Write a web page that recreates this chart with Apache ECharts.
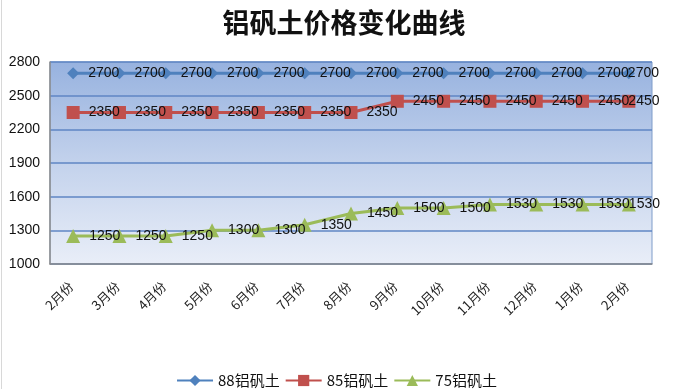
<!DOCTYPE html>
<html>
<head>
<meta charset="utf-8">
<script src="https://cdn.jsdelivr.net/npm/echarts@6/dist/echarts.min.js"></script>
<style>
html,body{margin:0;padding:0;background:#fff;}
#chart{width:673px;height:389px;}
</style>
</head>
<body>
<div id="chart"></div>
<script>
const titleText = '铝矾土价格变化曲线';
const categories = ['2月份','3月份','4月份','5月份','6月份','7月份','8月份','9月份','10月份','11月份','12月份','1月份','2月份'];
const seriesNames = ['88铝矾土','85铝矾土','75铝矾土'];
const s88 = [2700,2700,2700,2700,2700,2700,2700,2700,2700,2700,2700,2700,2700];
const s85 = [2350,2350,2350,2350,2350,2350,2350,2450,2450,2450,2450,2450,2450];
const s75 = [1250,1250,1250,1300,1300,1350,1450,1500,1500,1530,1530,1530,1530];
const yTicks = {min:1000, max:2800, interval:300};

const chart = echarts.init(document.getElementById('chart'));
const labelStyle = {show:true, position:'right', distance:9, color:'#111', fontSize:14, fontFamily:'Liberation Sans'};
function mk(name, data, color, symbol, size){
  return {
    name, type:'line', data, symbol, symbolSize:size,
    lineStyle:{color, width:3}, itemStyle:{color},
    label:labelStyle, z: 3,
    labelLayout: function(p){ return p.dataIndex === data.length - 1 ? {dx:-16} : {}; }
  };
}
chart.setOption({
  animation:false,
  backgroundColor:'#fff',
  title:{text:titleText, left:339, textAlign:'center', top:4,
    textStyle:{fontSize:27, fontWeight:'bold', color:'#111', fontFamily:'Noto Sans CJK SC'}},
  legend:{left:'center', top:368, itemWidth:36, itemHeight:14, itemGap:5,
    textStyle:{fontSize:15, color:'#111', fontFamily:'Noto Sans CJK SC'},
    data:seriesNames},
  grid:{left:50, right:21, top:62, bottom:125, show:true,
    backgroundColor:{type:'linear', x:0, y:0, x2:0, y2:1, colorStops:[
      {offset:0, color:'#97b2df'},{offset:0.5, color:'#c3d2ec'},{offset:1, color:'#e9eef8'}]},
    borderColor:'#7f9cc9', borderWidth:1},
  xAxis:{type:'category', data:categories, boundaryGap:true,
    axisLine:{lineStyle:{color:'#8c8c8c', width:1.5}},
    axisTick:{show:false},
    axisLabel:{rotate:45, margin:18, padding:[0,3,0,0], fontSize:13, color:'#222', fontFamily:'Noto Sans CJK SC', interval:0}},
  yAxis:{type:'value', min:yTicks.min, max:yTicks.max, interval:yTicks.interval,
    axisLine:{show:true, lineStyle:{color:'#8c8c8c', width:1.5}},
    axisTick:{show:false},
    axisLabel:{margin:10, fontSize:14, color:'#111', fontFamily:'Liberation Sans', formatter: v => String(v)},
    splitLine:{lineStyle:{color:'#5f86c4', width:1.5}}},
  graphic:[{type:'line', shape:{x1:1.5, y1:0, x2:1.5, y2:389}, style:{stroke:'#d8d8d8', lineWidth:1}}],
  series:[
    mk(seriesNames[0], s88, '#4f81bd', 'diamond', 12),
    mk(seriesNames[1], s85, '#c0504d', 'rect', 13),
    mk(seriesNames[2], s75, '#9bbb59', 'triangle', 14)
  ]
});
</script>
</body>
</html>
